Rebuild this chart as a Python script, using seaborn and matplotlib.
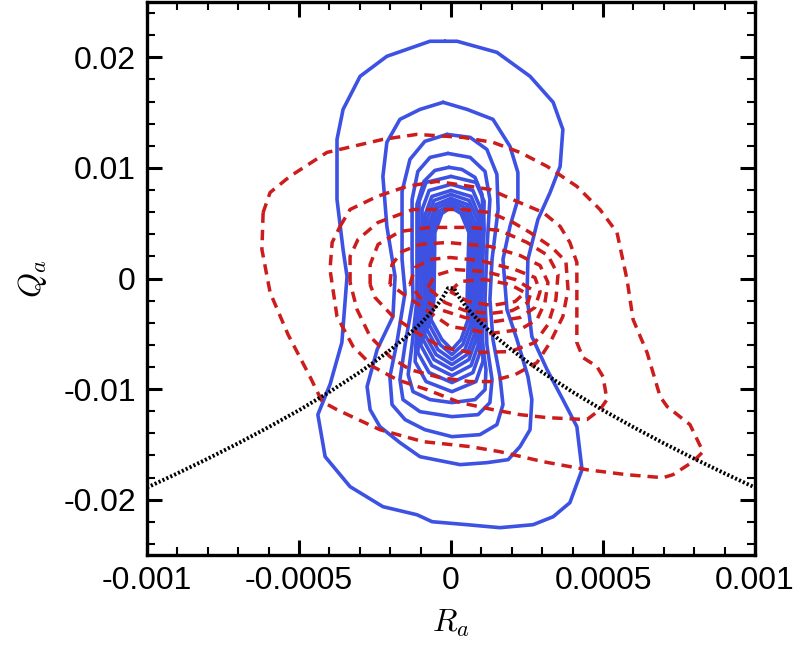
import matplotlib
matplotlib.use("Agg")
import numpy as np
import pandas as pd
import matplotlib.pyplot as plt
from matplotlib.ticker import MultipleLocator
import seaborn as sns

# contour vertices: R in units of 1e-4, Q in units of 1e-3
R_UNIT = 1e-4
Q_UNIT = 1e-3

# blue solid contours, outermost first
b1_r = [-0.20, -0.69, -2.11, -2.99, -3.55, -3.75, -3.75, -3.55, -3.42, -3.59, -3.98, -4.38, -4.14, -3.32,
        -2.24, -1.12, -0.62, 0.53, 1.61, 2.70, 3.36, 3.91, 4.31, 4.14, 3.68, 3.16, 2.66, 2.50, 2.53, 2.86,
        3.26, 3.59, 3.68, 3.36, 2.60, 1.51, 0.20]
b1_q = [21.45, 21.45, 20.09, 18.28, 15.29, 12.58, 7.15, 2.62, 0.18, -5.79, -9.59, -12.31, -16.11, -18.82,
        -20.63, -21.36, -21.99, -22.26, -22.53, -22.26, -21.54, -20.27, -17.29, -13.39, -10.95, -8.24, -5.25,
        -1.63, 1.72, 5.34, 7.78, 10.14, 13.48, 15.93, 18.28, 20.45, 21.45]

b2_r = [-0.26, -1.02, -1.68, -2.11, -2.24, -2.11, -1.84, -1.91, -2.43, -2.76, -2.66, -2.34, -1.68, -1.02,
        0.30, 1.18, 1.88, 2.27, 2.60, 2.66, 2.53, 2.17, 1.84, 1.71, 1.94, 2.20, 2.20, 1.94, 1.38, 0.53]
b2_q = [15.93, 15.29, 14.39, 12.31, 9.23, 4.71, 0.18, -3.44, -6.43, -9.77, -11.86, -13.39, -14.84, -16.11,
        -16.83, -16.65, -16.38, -15.20, -13.67, -10.95, -8.87, -5.52, -2.81, 1.72, 4.71, 7.15, 9.59, 11.95,
        14.39, 15.29]

b3_r = [-0.13, -0.86, -1.35, -1.61, -1.61, -1.51, -1.78, -2.01, -1.94, -1.51, -0.86, 0.03, 0.95, 1.51,
        1.71, 1.61, 1.38, 1.28, 1.35, 1.55, 1.51, 1.18, 0.63]
b3_q = [13.03, 12.40, 10.77, 7.87, 1.72, -1.27, -5.79, -8.87, -11.40, -12.76, -13.67, -14.30, -14.12,
        -13.21, -11.40, -8.87, -5.52, -1.90, 1.72, 6.24, 9.41, 11.67, 12.76]

b4_r = [-0.10, -0.69, -1.09, -1.28, -1.28, -1.25, -1.51, -1.68, -1.58, -1.02, 0.03, 0.89, 1.28, 1.35,
        1.18, 1.12, 1.18, 1.28, 1.12, 0.63]
b4_q = [11.31, 10.95, 9.68, 7.15, 1.72, -1.90, -5.97, -9.14, -10.95, -12.04, -12.49, -12.31, -11.22,
        -9.14, -5.97, -1.90, 2.62, 7.15, 9.68, 10.95]

b5_r = [-0.07, -0.53, -0.89, -1.12, -1.12, -1.28, -1.41, -1.25, -0.69, 0.03, 0.79, 1.12, 1.15, 1.02,
        0.95, 1.09, 1.02, 0.79, 0.36]
b5_q = [10.05, 9.77, 8.78, 6.70, -1.90, -5.97, -8.69, -10.23, -10.95, -11.22, -10.95, -10.05, -8.24,
        -5.52, -1.90, 4.43, 7.60, 9.14, 9.86]

b6_r = [0.00, -0.82, -1.05, -1.09, -1.18, -0.82, 0.03, 0.82, 1.05, 1.02, 1.09, 0.82]
b6_q = [9.23, 8.69, 6.97, -1.90, -7.51, -9.32, -10.23, -9.32, -7.51, -1.90, 6.97, 8.69]

b7_r = [0.00, -0.72, -0.95, -0.99, -1.09, -0.72, 0.03, 0.72, 0.95, 0.92, 0.99, 0.72]
b7_q = [8.51, 7.96, 6.24, -1.90, -6.70, -8.51, -9.41, -8.51, -6.70, -1.90, 6.24, 7.96]

b8_r = [0.00, -0.63, -0.86, -0.89, -0.99, -0.63, 0.03, 0.66, 0.89, 0.86, 0.92, 0.66]
b8_q = [7.96, 7.42, 5.70, -1.90, -6.06, -7.87, -8.78, -7.87, -6.06, -1.90, 5.70, 7.42]

b9_r = [0.00, -0.56, -0.79, -0.82, -0.92, -0.56, 0.03, 0.59, 0.82, 0.79, 0.86, 0.59]
b9_q = [7.60, 7.06, 5.34, -1.90, -5.52, -7.33, -8.24, -7.33, -5.52, -1.90, 5.34, 7.06]

b10_r = [0.00, -0.49, -0.72, -0.76, -0.86, -0.49, 0.03, 0.53, 0.76, 0.72, 0.79, 0.53]
b10_q = [7.24, 6.70, 4.98, -1.90, -5.07, -6.88, -7.78, -6.88, -5.07, -1.90, 4.98, 6.70]

b11_r = [0.00, -0.43, -0.66, -0.69, -0.79, -0.43, 0.03, 0.46, 0.69, 0.66, 0.72, 0.46]
b11_q = [6.97, 6.43, 4.71, -1.90, -4.62, -6.43, -7.33, -6.43, -4.62, -1.90, 4.71, 6.43]

b12_r = [0.00, -0.36, -0.59, -0.63, -0.72, -0.36, 0.03, 0.39, 0.63, 0.59, 0.66, 0.39]
b12_q = [6.70, 6.15, 4.43, -1.90, -4.16, -5.97, -6.88, -5.97, -4.16, -1.90, 4.43, 6.15]

b13_r = [0.00, -0.30, -0.53, -0.56, -0.66, -0.30, 0.03, 0.33, 0.56, 0.53, 0.59, 0.33]
b13_q = [6.43, 5.88, 4.16, -1.90, -3.71, -5.52, -6.43, -5.52, -3.71, -1.90, 4.16, 5.88]

# red dashed contours, outermost first
r1_r = [-6.18, -6.22, -5.95, -5.36, -4.64, -4.24, -3.75, -2.34, -0.92, 0.63, 1.61, 3.03, 4.47, 5.79, 6.97,
        7.30, 7.96, 8.29, 7.86, 7.11, 6.88, 6.45, 5.99, 5.79, 5.46, 4.90, 4.14, 3.16, 2.27, 1.38, 0.39,
        -1.12, -2.24, -4.08, -5.30, -5.95]
r1_q = [5.97, 2.62, -1.27, -5.07, -8.87, -11.13, -11.86, -13.67, -14.75, -15.20, -15.66, -16.56, -17.29,
        -17.74, -18.01, -17.74, -16.56, -15.66, -13.21, -11.58, -10.68, -6.70, -3.71, -0.09, 4.16, 6.24,
        8.33, 10.14, 11.40, 12.31, 12.76, 13.03, 12.58, 11.40, 9.23, 7.78]

r2_r = [-3.65, -3.32, -2.43, -1.45, -0.46, 0.63, 1.28, 2.17, 3.03, 3.59, 3.91, 4.14, 4.14, 4.14, 4.34,
        4.80, 5.00, 5.13, 4.90, 4.47, 3.16, 2.27, 1.38, 0.30, -0.79, -1.78, -2.57, -3.22, -3.75, -3.98, -3.91]
r2_q = [4.71, 6.24, 7.42, 8.33, 8.78, 8.33, 8.05, 6.97, 5.97, 4.71, 3.26, 1.45, -1.63, -5.79, -7.15,
        -7.96, -8.87, -10.95, -11.86, -12.76, -12.58, -12.31, -11.86, -11.22, -10.05, -9.14, -7.96, -6.15,
        -3.44, 0.81, 3.26]

r3_r = [-3.32, -3.32, -3.06, -2.40, -1.25, 0.39, 1.28, 2.04, 2.60, 3.32, 3.78, 3.85, 3.68, 3.26, 2.83,
        2.11, 1.28, 0.63, -0.36, -1.35, -2.01, -2.66, -3.09]
r3_q = [-0.36, 1.99, 3.53, 5.07, 6.24, 6.24, 5.97, 5.07, 4.16, 2.81, 1.54, -1.00, -3.44, -5.79, -7.60,
        -8.69, -9.32, -9.32, -8.96, -8.24, -7.06, -5.25, -2.81]

r4_r = [-2.66, -2.66, -2.40, -1.68, -0.69, 0.63, 1.61, 2.50, 3.19, 3.52, 3.45, 3.19, 2.76, 1.94, 0.63,
        -0.36, -1.12, -1.91, -2.50]
r4_q = [-0.54, 1.27, 3.08, 4.25, 4.62, 4.62, 4.34, 3.26, 2.08, 0.36, -1.90, -4.16, -5.79, -6.61, -6.70,
        -6.15, -4.89, -3.44, -1.72]

r5_r = [-2.01, -1.94, -1.61, -1.02, -0.13, 1.28, 2.27, 2.93, 3.19, 3.09, 2.83, 2.27, 1.28, 0.63, -0.03,
        -0.69, -1.45]
r5_q = [-0.54, 1.27, 2.44, 3.08, 3.26, 2.90, 2.08, 1.18, -0.36, -2.17, -3.71, -4.62, -4.98, -4.62, -4.34,
        -3.08, -1.63]

r6_r = [-1.35, -1.18, -0.69, -0.03, 0.95, 2.11, 2.76, 2.93, 2.76, 2.27, 1.45, 0.46, -0.36, -1.02]
r6_q = [-0.54, 1.00, 1.72, 1.90, 1.63, 0.81, 0.09, -1.18, -2.62, -3.53, -3.89, -3.53, -2.81, -1.72]

r7_r = [-0.76, -0.53, 0.13, 1.12, 2.11, 2.66, 2.53, 2.01, 1.28, 0.46, -0.20]
r7_q = [-0.81, 0.27, 0.81, 0.63, -0.09, -1.00, -2.17, -2.90, -3.17, -2.90, -2.17]

r8_r = [-0.03, 0.30, 1.12, 1.94, 2.43, 2.11, 1.35, 0.56]
r8_q = [-1.18, -0.27, -0.09, -0.54, -1.27, -2.08, -2.44, -2.08]

# black dotted boundary line
line_r = [-10, -9, -8, -7, -6, -5, -4, -3, -2.5, -2, -1.5, -1, -0.7, -0.5, -0.3, -0.2, -0.1,
          0.1, 0.2, 0.3, 0.5, 0.7, 1, 1.5, 2, 2.5, 3, 4, 5, 6, 7, 8, 9, 10]
line_q = [-18.90, -17.62, -16.29, -14.90, -13.44, -11.91, -10.26, -8.47, -7.50, -6.46, -5.34, -4.07,
          -3.21, -2.57, -1.82, -1.39, -0.88,
          -0.88, -1.39, -1.82, -2.57, -3.21, -4.07, -5.34, -6.46, -7.50, -8.47, -10.26, -11.91, -13.44,
          -14.90, -16.29, -17.62, -18.90]

blue_r = [b1_r, b2_r, b3_r, b4_r, b5_r, b6_r, b7_r, b8_r, b9_r, b10_r, b11_r, b12_r, b13_r]
blue_q = [b1_q, b2_q, b3_q, b4_q, b5_q, b6_q, b7_q, b8_q, b9_q, b10_q, b11_q, b12_q, b13_q]
red_r = [r1_r, r2_r, r3_r, r4_r, r5_r, r6_r, r7_r, r8_r]
red_q = [r1_q, r2_q, r3_q, r4_q, r5_q, r6_q, r7_q, r8_q]


def contour_frame(rs, qs):
    """Long table of closed contour paths, one unit per level."""
    rows = []
    for level, (r, q) in enumerate(zip(rs, qs)):
        r = list(r) + [r[0]]
        q = list(q) + [q[0]]
        for i, (x, y) in enumerate(zip(r, q)):
            rows.append((level, i, x * R_UNIT, y * Q_UNIT))
    return pd.DataFrame(rows, columns=["level", "idx", "R", "Q"])


blue_df = contour_frame(blue_r, blue_q)
red_df = contour_frame(red_r, red_q)
line_df = pd.DataFrame({"R": np.array(line_r) * R_UNIT, "Q": np.array(line_q) * Q_UNIT})

sns.set_theme(style="ticks")
plt.rcParams["font.family"] = ["Liberation Sans", "DejaVu Sans"]
plt.rcParams["mathtext.fontset"] = "cm"

fig = plt.figure(figsize=(7.98, 6.46), dpi=100)
ax = fig.add_axes([147 / 798, 1 - 555 / 646, 608 / 798, 553 / 646])

sns.lineplot(data=blue_df, x="R", y="Q", units="level", estimator=None, sort=False,
             color="#3d52e3", linewidth=2.6, ax=ax)
sns.lineplot(data=red_df, x="R", y="Q", units="level", estimator=None, sort=False,
             color="#cc1c1c", linewidth=2.5, linestyle=(0, (3.0, 2.0)), ax=ax)
sns.lineplot(data=line_df, x="R", y="Q", estimator=None, sort=False,
             color="black", linewidth=2.8, linestyle=(0, (0.55, 0.55)), ax=ax)

ax.set_xlim(-0.001, 0.001)
ax.set_ylim(-0.025, 0.025)
ax.set_xticks([-0.001, -0.0005, 0, 0.0005, 0.001],
              ["-0.001", "-0.0005", "0", "0.0005", "0.001"])
ax.set_yticks([-0.02, -0.01, 0, 0.01, 0.02],
              ["-0.02", "-0.01", "0", "0.01", "0.02"])
ax.xaxis.set_minor_locator(MultipleLocator(0.0001))
ax.yaxis.set_minor_locator(MultipleLocator(0.002))
ax.tick_params(which="both", direction="in", top=True, right=True, colors="black",
               labelcolor="black", labelsize=23, pad=8)
ax.tick_params(which="major", length=11, width=2.2)
ax.tick_params(which="minor", length=6, width=1.5)
for side in ax.spines.values():
    side.set_linewidth(2.4)
    side.set_color("black")

ax.set_xlabel(r"$R_a$", fontsize=23, labelpad=8, color="black")
ax.set_ylabel(r"$Q_a$", fontsize=23, labelpad=10, color="black")

fig.savefig("out.png", dpi=100)
